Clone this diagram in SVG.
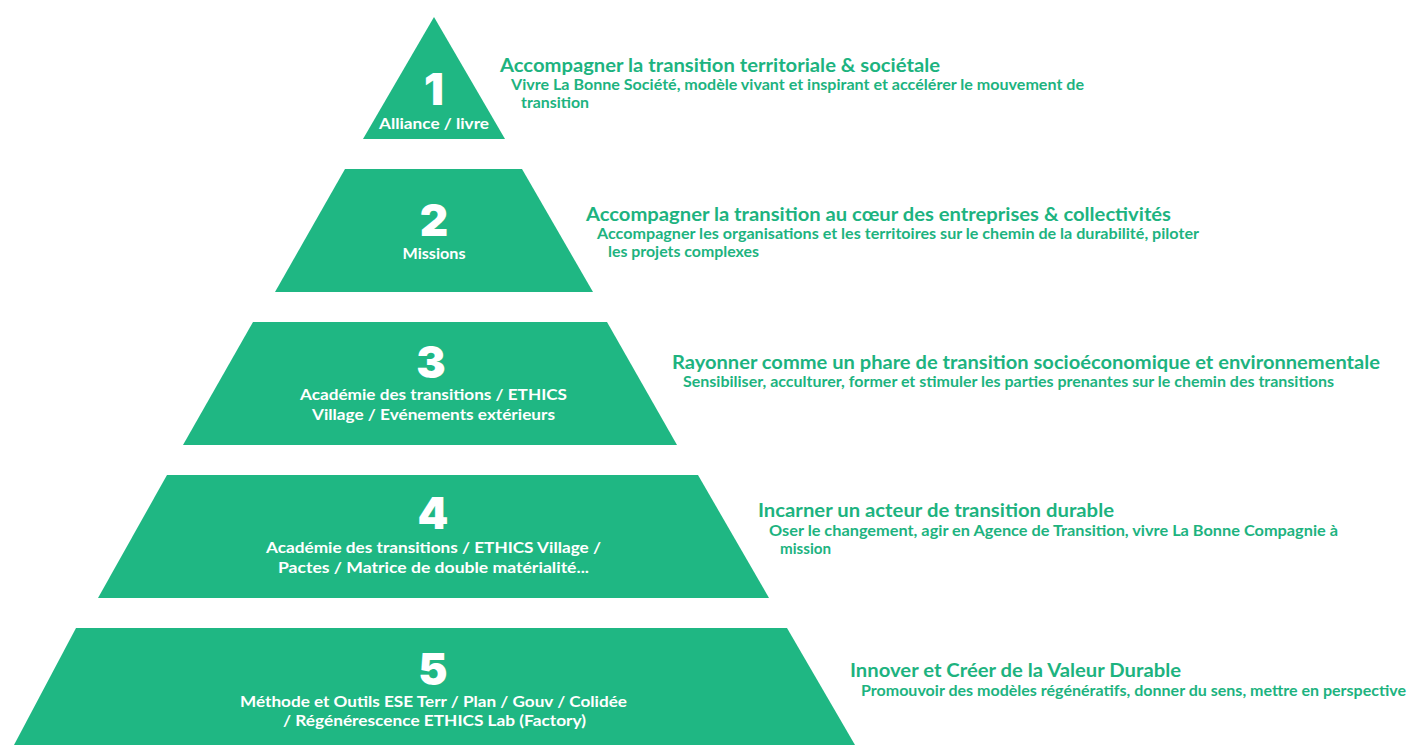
<svg xmlns="http://www.w3.org/2000/svg" width="1408" height="745" viewBox="0 0 1408 745">
<style>
.lvl{fill:#1fb783}
.num{font-family:Inter,"DejaVu Sans",sans-serif;font-weight:900;font-size:44px;fill:#fff;text-anchor:middle}
.lab{font-family:Lato,"Liberation Sans",sans-serif;font-weight:700;font-size:15.5px;fill:#fff;text-anchor:middle}
.tt{font-family:Lato,"Liberation Sans",sans-serif;font-weight:700;font-size:18px;fill:#1db37f}
.st{font-family:Lato,"Liberation Sans",sans-serif;font-weight:700;font-size:14.5px;fill:#1db37f}
</style>
<rect width="1408" height="745" fill="#fff"/>
<g id="level1">
<polygon class="lvl" points="434,17 505,139 363,139"/>
<text class="num" x="434" y="105">1</text>
<text class="lab" x="434" y="129" textLength="110" lengthAdjust="spacingAndGlyphs">Alliance / livre</text>
<text class="tt" x="500" y="72" textLength="440" lengthAdjust="spacingAndGlyphs">Accompagner la transition territoriale &amp; sociétale</text>
<text class="st" x="511" y="90" textLength="573" lengthAdjust="spacingAndGlyphs">Vivre La Bonne Société, modèle vivant et inspirant et accélérer le mouvement de</text>
<text class="st" x="521" y="108" textLength="68" lengthAdjust="spacingAndGlyphs">transition</text>
</g>
<g id="level2">
<polygon class="lvl" points="345,169 522,169 593,292 275,292"/>
<text class="num" x="434" y="236">2</text>
<text class="lab" x="434" y="258.5" textLength="63" lengthAdjust="spacingAndGlyphs">Missions</text>
<text class="tt" x="586" y="221" textLength="585" lengthAdjust="spacingAndGlyphs">Accompagner la transition au cœur des entreprises &amp; collectivités</text>
<text class="st" x="597" y="239" textLength="602" lengthAdjust="spacingAndGlyphs">Accompagner les organisations et les territoires sur le chemin de la durabilité, piloter</text>
<text class="st" x="608" y="257" textLength="151" lengthAdjust="spacingAndGlyphs">les projets complexes</text>
</g>
<g id="level3">
<polygon class="lvl" points="253,322 607,322 677,445 183,445"/>
<text class="num" x="431" y="378">3</text>
<text class="lab" x="433.5" y="400" textLength="267" lengthAdjust="spacingAndGlyphs">Académie des transitions / ETHICS</text>
<text class="lab" x="433.5" y="420" textLength="243" lengthAdjust="spacingAndGlyphs">Village / Evénements extérieurs</text>
<text class="tt" x="672" y="369" textLength="708" lengthAdjust="spacingAndGlyphs">Rayonner comme un phare de transition socioéconomique et environnementale</text>
<text class="st" x="683" y="387" textLength="651" lengthAdjust="spacingAndGlyphs">Sensibiliser, acculturer, former et stimuler les parties prenantes sur le chemin des transitions</text>
</g>
<g id="level4">
<polygon class="lvl" points="167,475 698,475 769,598 98,598"/>
<text class="num" x="433" y="529">4</text>
<text class="lab" x="433.5" y="553" textLength="335" lengthAdjust="spacingAndGlyphs">Académie des transitions / ETHICS Village /</text>
<text class="lab" x="433.5" y="573" textLength="311" lengthAdjust="spacingAndGlyphs">Pactes / Matrice de double matérialité...</text>
<text class="tt" x="758" y="517" textLength="356" lengthAdjust="spacingAndGlyphs">Incarner un acteur de transition durable</text>
<text class="st" x="769" y="536" textLength="569" lengthAdjust="spacingAndGlyphs">Oser le changement, agir en Agence de Transition, vivre La Bonne Compagnie à</text>
<text class="st" x="780" y="554" textLength="51" lengthAdjust="spacingAndGlyphs">mission</text>
</g>
<g id="level5">
<polygon class="lvl" points="76,628 787,628 855,745 14,745"/>
<text class="num" x="433" y="685">5</text>
<text class="lab" x="433.5" y="707" textLength="387" lengthAdjust="spacingAndGlyphs">Méthode et Outils ESE Terr / Plan / Gouv / Colidée</text>
<text class="lab" x="434.5" y="726" textLength="303" lengthAdjust="spacingAndGlyphs">/ Régénérescence ETHICS Lab (Factory)</text>
<text class="tt" x="850" y="677" textLength="331" lengthAdjust="spacingAndGlyphs">Innover et Créer de la Valeur Durable</text>
<text class="st" x="861" y="696" textLength="545" lengthAdjust="spacingAndGlyphs">Promouvoir des modèles régénératifs, donner du sens, mettre en perspective</text>
</g>
<g id="connectors"/>
</svg>
